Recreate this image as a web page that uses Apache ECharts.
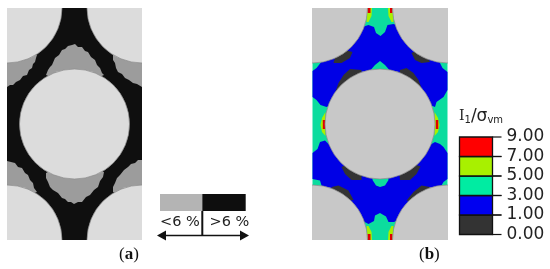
<!DOCTYPE html>
<html lang="en">
<head>
<meta charset="UTF-8">
<title>Stress triaxiality maps</title>
<script src="https://cdn.jsdelivr.net/npm/echarts@6/dist/echarts.min.js"></script>
<style>html,body{margin:0;background:#fff}</style>
</head>
<body>
<div id="main" style="width:550px;height:269px;"></div>
<script>
// panel coordinates: x 0..135, y 0..232 (y down)
var panelSize = [135, 232];
var circleCentres = [[0, 0], [135, 0], [67.5, 116], [0, 232], [135, 232]];
var circleRadius = [55];

// panel (a): regions below 6 %
var lowRegionsA = [
    [[39, 67], [41, 62], [43, 59], [45, 57], [48, 50], [52, 47], [55, 42], [58, 41], [61, 38], [65, 37], [68, 36], [71, 39], [75, 39], [78, 43], [81, 44], [84, 49], [88, 52], [90, 57], [93, 60], [95, 65], [97, 67], [68, 80]],
    [[0, 79], [3, 77], [6, 77], [9, 74], [13, 72], [16, 68], [20, 67], [22, 62], [25, 60], [26, 56], [28, 54], [29, 50], [30, 47], [0, 40]],
    [[106, 47], [106, 52], [108, 55], [109, 60], [111, 64], [115, 66], [118, 70], [122, 72], [126, 75], [130, 76], [135, 79], [135, 40]],
    [[39, 165], [39, 170], [41, 174], [43, 179], [46, 182], [51, 185], [55, 190], [58, 191], [61, 194], [64, 194], [67, 196], [71, 194], [75, 194], [79, 189], [83, 187], [87, 182], [91, 179], [93, 173], [96, 169], [97, 164], [68, 150]],
    [[0, 153], [4, 154], [8, 155], [11, 159], [15, 160], [18, 165], [21, 167], [23, 172], [26, 175], [27, 180], [30, 184], [0, 195]],
    [[106, 184], [106, 179], [108, 175], [110, 170], [113, 167], [117, 162], [121, 159], [124, 156], [128, 155], [131, 152], [135, 152], [135, 195]]
];

// panel (b): one list of regions per contour band
var band1to3 = [
    [[56, 17], [61.5, 19], [63.5, 25], [68, 28], [72.5, 24], [75, 17], [81, 16], [105, 25], [127.5, 55], [130, 60], [135, 64],
     [135, 82], [131, 89], [124, 94], [122.5, 99], [100, 90], [80, 70], [76, 61], [72.5, 57], [67.5, 53], [62.5, 57], [59, 61],
     [55, 70], [35, 90], [14, 99], [8, 97], [4, 92], [0, 89], [0, 63], [4, 60], [8, 55], [30, 25]],
    [[16, 136], [12.5, 132.5], [7.5, 134], [5, 141], [0, 145], [0, 171], [7.5, 172.5], [9, 177.5], [35, 205], [56, 216], [61.5, 213],
     [62.5, 207.5], [67.5, 205], [73.5, 208.5], [76, 214], [81.5, 214], [100, 205], [129, 177.5], [131, 174], [135, 171], [135, 145],
     [131, 139], [127.5, 136], [122.5, 134], [119, 136], [100, 140], [75, 165], [76, 172], [72.5, 177.5], [67.5, 179], [63.5, 177.5],
     [60, 172], [60, 165], [40, 150]]
];
var band0to1 = [
    [[21, 55], [29, 55], [37.5, 50], [40, 44], [25, 40]],
    [[99, 45], [102.5, 52], [109, 55], [117.5, 54], [110, 40]],
    [[22.5, 85], [26, 75], [31, 67], [37.5, 61], [49, 62], [50, 80]],
    [[87.5, 62], [94, 60], [101, 65], [106, 72], [109, 80], [85, 80]],
    [[29, 159], [32.5, 166], [39, 172], [49, 172], [50, 150]],
    [[87.5, 172], [97.5, 172], [104, 166], [108, 158.5], [85, 150]],
    [[19, 179], [26, 177.5], [36, 182.5], [41, 192], [20, 195]],
    [[94, 192.5], [101, 184], [109, 177.5], [117.5, 179], [115, 195]]
];
var band5to7 = [
    [[55, 0], [59.5, 0], [59, 8], [56, 14], [54, 14]],
    [[75.5, 0], [80, 0], [81, 14], [79, 14], [76, 8]],
    [[13, 104], [9.5, 110], [8, 117], [9.5, 124], [13, 128]],
    [[122, 104], [125.5, 110], [127, 117], [125.5, 124], [122, 128]],
    [[55, 232], [59.5, 232], [59, 224], [56, 218], [54, 218]],
    [[75.5, 232], [80, 232], [81, 218], [79, 218], [76, 224]]
];
var band7to9 = [
    [[55, 0], [58, 0], [58, 5], [55, 5]],
    [[77.5, 0], [80, 0], [80, 5], [77.5, 5]],
    [[10.3, 112], [12.8, 112], [12.8, 121], [10.3, 121]],
    [[123.3, 112], [125.8, 112], [125.8, 121], [123.3, 121]],
    [[55, 226], [58, 226], [58, 232], [55, 232]],
    [[77.5, 226], [80, 226], [80, 232], [77.5, 232]]
];

// colour scale
var scaleTicks = ['0.00', '1.00', '3.00', '5.00', '7.00', '9.00'];
var scaleBands = [0, 1, 2, 3, 4];
var scaleColors = ['#333333', '#0000f0', '#00eca2', '#a8f000', '#ff0000'];

// panel (a) key
var keyLabels = ['<6 %', '>6 %'];
var keyLabelX = [-22.3, 27.2];
var keySpans = [[-42.3, 0], [0, 43.4]];
var keyColors = ['#b4b4b4', '#0e0e0e'];

var myChart = echarts.init(document.getElementById('main'));

function polySeries(gridIndex, polys, color) {
    return {
        type: 'custom',
        coordinateSystem: 'cartesian2d',
        xAxisIndex: gridIndex,
        yAxisIndex: gridIndex,
        clip: true,
        silent: true,
        data: polys.map(function (p, i) { return i; }),
        renderItem: function (params, api) {
            return {
                type: 'polygon',
                shape: { points: polys[params.dataIndex].map(function (pt) { return api.coord(pt); }) },
                style: { fill: color }
            };
        }
    };
}

function circleSeries(gridIndex, color, edge) {
    return {
        type: 'custom',
        coordinateSystem: 'cartesian2d',
        xAxisIndex: gridIndex,
        yAxisIndex: gridIndex,
        clip: true,
        silent: true,
        data: circleCentres.map(function (p, i) { return i; }),
        renderItem: function (params, api) {
            var c = api.coord(circleCentres[params.dataIndex]);
            return {
                type: 'circle',
                shape: { cx: c[0], cy: c[1], r: api.size([circleRadius[0], 0])[0] },
                style: { fill: color, stroke: edge, lineWidth: 0.7 }
            };
        }
    };
}

function backSeries(gridIndex, color) {
    return polySeries(gridIndex, [[[0, 0], [panelSize[0], 0], panelSize, [0, panelSize[1]]]], color);
}

var panelX = function (i) { return { gridIndex: i, type: 'value', min: 0, max: panelSize[0], show: false }; };
var panelY = function (i) { return { gridIndex: i, type: 'value', min: 0, max: panelSize[1], inverse: true, show: false }; };

var option = {
    animation: false,
    backgroundColor: '#fff',
    grid: [
        { left: 7, top: 8, width: 135, height: 232 },
        { left: 312.5, top: 8, width: 135, height: 232 },
        { left: 459.5, top: 137, width: 33, height: 97.5 },
        { left: 157, top: 194, width: 92, height: 42 }
    ],
    xAxis: [
        panelX(0),
        panelX(1),
        { gridIndex: 2, type: 'value', min: 0, max: 1, show: false },
        { gridIndex: 3, type: 'value', min: -45.3, max: 46.7, show: false }
    ],
    yAxis: [
        panelY(0),
        panelY(1),
        {
            gridIndex: 2, type: 'value', position: 'right', min: 0, max: 5, interval: 1,
            splitLine: { show: false },
            axisLine: { show: false },
            axisTick: { show: false },
            axisLabel: {
                margin: 14, fontFamily: 'DejaVu Sans', fontSize: 17, color: '#222',
                formatter: function (v) { return scaleTicks[v]; }
            }
        },
        { gridIndex: 3, type: 'value', min: 0, max: 42, inverse: true, show: false }
    ],
    graphic: [
        {
            type: 'text', left: 459, top: 108,
            style: {
                text: '{i|I}{s|1}{g|/σ}{s|vm}',
                rich: {
                    i: { fontFamily: 'DejaVu Serif', fontSize: 14, fill: '#222' },
                    g: { fontFamily: 'DejaVu Sans', fontSize: 17, fill: '#222' },
                    s: { fontFamily: 'DejaVu Sans', fontSize: 10, fill: '#222', verticalAlign: 'bottom', padding: [7, 0, 0, 0] }
                }
            }
        },
        {
            type: 'text', left: 119, top: 246,
            style: {
                text: '({b|a})',
                font: '17px "Liberation Serif"',
                fill: '#111',
                rich: { b: { font: 'bold 17px "Liberation Serif"', fill: '#111' } }
            }
        },
        {
            type: 'text', left: 419, top: 246,
            style: {
                text: '({b|b})',
                font: '17px "Liberation Serif"',
                fill: '#111',
                rich: { b: { font: 'bold 17px "Liberation Serif"', fill: '#111' } }
            }
        }
    ],
    series: [
        backSeries(0, '#0f0f0f'),
        polySeries(0, lowRegionsA, '#9c9c9c'),
        circleSeries(0, '#dcdcdc', '#8a8a8a'),

        backSeries(1, '#0cdc9e'),
        polySeries(1, band5to7, '#a8f000'),
        polySeries(1, band7to9, '#e00000'),
        polySeries(1, band1to3, '#0000e6'),
        polySeries(1, band0to1, '#333333'),
        circleSeries(1, '#c8c8c8', '#8a8a8a'),

        // colour scale boxes with a tick at the top and bottom of each band
        {
            type: 'custom',
            coordinateSystem: 'cartesian2d',
            xAxisIndex: 2,
            yAxisIndex: 2,
            silent: true,
            clip: false,
            data: scaleBands,
            renderItem: function (params, api) {
                var i = scaleBands[params.dataIndex];
                var a = api.coord([0, i + 1]);
                var b = api.coord([1, i]);
                return {
                    type: 'group',
                    children: [
                        {
                            type: 'rect',
                            shape: { x: a[0], y: a[1], width: b[0] - a[0], height: b[1] - a[1] },
                            style: { fill: scaleColors[i], stroke: '#111', lineWidth: 1.3 }
                        },
                        { type: 'line', shape: { x1: b[0], y1: a[1], x2: b[0] + 9, y2: a[1] }, style: { stroke: '#111', lineWidth: 1.2 } },
                        { type: 'line', shape: { x1: b[0], y1: b[1], x2: b[0] + 9, y2: b[1] }, style: { stroke: '#111', lineWidth: 1.2 } }
                    ]
                };
            }
        },

        // key for panel (a): two swatches, divider, double arrow and labels
        {
            type: 'custom',
            coordinateSystem: 'cartesian2d',
            xAxisIndex: 3,
            yAxisIndex: 3,
            clip: false,
            silent: true,
            data: [0],
            renderItem: function (params, api) {
                var children = [];
                keySpans.forEach(function (span, i) {
                    var a = api.coord([span[0], 0]);
                    var b = api.coord([span[1], 17]);
                    children.push({ type: 'rect', shape: { x: a[0], y: a[1], width: b[0] - a[0], height: b[1] - a[1] }, style: { fill: keyColors[i] } });
                    var t = api.coord([keyLabelX[i], 28.7]);
                    children.push({
                        type: 'text',
                        style: { text: keyLabels[i], x: t[0], y: t[1], align: 'center', verticalAlign: 'middle', font: '14.5px "DejaVu Sans"', fill: '#222' }
                    });
                });
                var top = api.coord([0, 17]);
                var mid = api.coord([0, 41.5]);
                var left = api.coord([-45.3, 41.5]);
                var right = api.coord([46.7, 41.5]);
                children.push({ type: 'line', shape: { x1: top[0], y1: top[1], x2: mid[0], y2: mid[1] }, style: { stroke: '#111', lineWidth: 2 } });
                children.push({ type: 'line', shape: { x1: left[0] + 6, y1: left[1], x2: right[0] - 6, y2: right[1] }, style: { stroke: '#111', lineWidth: 1.6 } });
                children.push({ type: 'polygon', shape: { points: [left, [left[0] + 9, left[1] - 5], [left[0] + 9, left[1] + 5]] }, style: { fill: '#111' } });
                children.push({ type: 'polygon', shape: { points: [right, [right[0] - 9, right[1] - 5], [right[0] - 9, right[1] + 5]] }, style: { fill: '#111' } });
                return { type: 'group', children: children };
            }
        }
    ]
};

myChart.setOption(option);
</script>
</body>
</html>
